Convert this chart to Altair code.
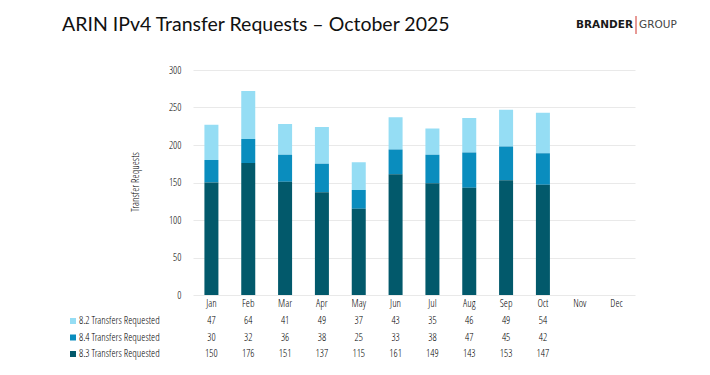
import altair as alt
import pandas as pd

months = ["Jan", "Feb", "Mar", "Apr", "May", "Jun", "Jul", "Aug", "Sep", "Oct", "Nov", "Dec"]
series = ["8.2 Transfers Requested", "8.4 Transfers Requested", "8.3 Transfers Requested"]
vals_82 = [47, 64, 41, 49, 37, 43, 35, 46, 49, 54]
vals_84 = [30, 32, 36, 38, 25, 33, 38, 47, 45, 42]
vals_83 = [150, 176, 151, 137, 115, 161, 149, 143, 153, 147]
colors = ["#95DDF4", "#0A8DBE", "#02596B"]
title_text = "ARIN IPv4 Transfer Requests \u2013 October 2025"
y_title = "Transfer Requests"

AXIS_FONT = "Open Sans Condensed Light"
FS = 10.5
TC = "#000000"
W, H = 442, 225

rows = []
for s, vals, o in zip(series, [vals_82, vals_84, vals_83], [3, 2, 1]):
    for m, v in zip(months, vals):
        rows.append({"month": m, "series": s, "value": v, "ord": o})
df = pd.DataFrame(rows)

xenc = alt.X("month:N", sort=months,
             scale=alt.Scale(domain=months, paddingOuter=0, paddingInner=0),
             axis=alt.Axis(title=None, labelAngle=0, ticks=False, domain=False, grid=False,
                           labelFont=AXIS_FONT, labelFontSize=FS,
                           labelColor=TC, labelPadding=3))

bars = alt.Chart(df).mark_bar(size=14).encode(
    x=xenc,
    y=alt.Y("value:Q", stack="zero",
            scale=alt.Scale(domain=[0, 300]),
            axis=alt.Axis(title=None, values=[0, 50, 100, 150, 200, 250, 300],
                          ticks=False, domain=False, labelFont=AXIS_FONT,
                          labelFontSize=FS, labelColor=TC,
                          labelPadding=12, gridColor="#E9E9E9")),
    color=alt.Color("series:N", scale=alt.Scale(domain=series, range=colors), legend=None),
    order=alt.Order("ord:Q"),
)

row_y = [251, 267.5, 284]
layers = [bars]
for i, s in enumerate(series):
    sub = df[df.series == s]
    layers.append(alt.Chart(sub).mark_text(font=AXIS_FONT, fontSize=FS,
                                           color=TC, baseline="middle").encode(
        x=alt.X("month:N", sort=months), y=alt.value(row_y[i]), text="value:Q"))
    lab = pd.DataFrame({"series": [s]})
    layers.append(alt.Chart(lab).mark_square(size=36, opacity=1, color=colors[i]).encode(
        x=alt.value(-120), y=alt.value(row_y[i])))
    layers.append(alt.Chart(lab).mark_text(font=AXIS_FONT, fontSize=FS,
                                           color=TC, align="left",
                                           baseline="middle").encode(
        x=alt.value(-114), y=alt.value(row_y[i]), text="series:N"))

tdf = pd.DataFrame({"t": [title_text]})
layers.append(alt.Chart(tdf).mark_text(font="Lato", fontSize=19.5, color="#111111",
                                       align="left", baseline="middle").encode(
    x=alt.value(-131), y=alt.value(-45), text="t:N"))

ydf = pd.DataFrame({"t": [y_title]})
layers.append(alt.Chart(ydf).mark_text(font=AXIS_FONT, fontSize=FS,
                                       color=TC, angle=270, align="center",
                                       baseline="middle").encode(
    x=alt.value(-57), y=alt.value(112), text="t:N"))

logo1 = pd.DataFrame({"t": ["BRANDER"]})
logo2 = pd.DataFrame({"t": ["GROUP"]})
layers.append(alt.Chart(logo1).mark_text(font="DejaVu Sans", fontWeight="bold", fontSize=10.5,
                                         color="#1a1a1a", align="right", baseline="middle").encode(
    x=alt.value(440), y=alt.value(-45), text="t:N"))
layers.append(alt.Chart(logo1).mark_rule(color="#D0342C", strokeWidth=1).encode(
    x=alt.value(443), y=alt.value(-54), y2=alt.value(-36)))
layers.append(alt.Chart(logo2).mark_text(font="DejaVu Sans", fontSize=10.5,
                                         color="#444444", align="left", baseline="middle").encode(
    x=alt.value(446), y=alt.value(-45), text="t:N"))

chart = alt.layer(*layers).properties(
    width=W, height=H,
    background="white",
    autosize=alt.AutoSizeParams(type="none"),
    padding={"left": 185, "top": 62, "right": 60, "bottom": 70},
).configure_view(strokeWidth=0)

chart.save("out.html", embed_options={"renderer": "svg", "actions": False})
